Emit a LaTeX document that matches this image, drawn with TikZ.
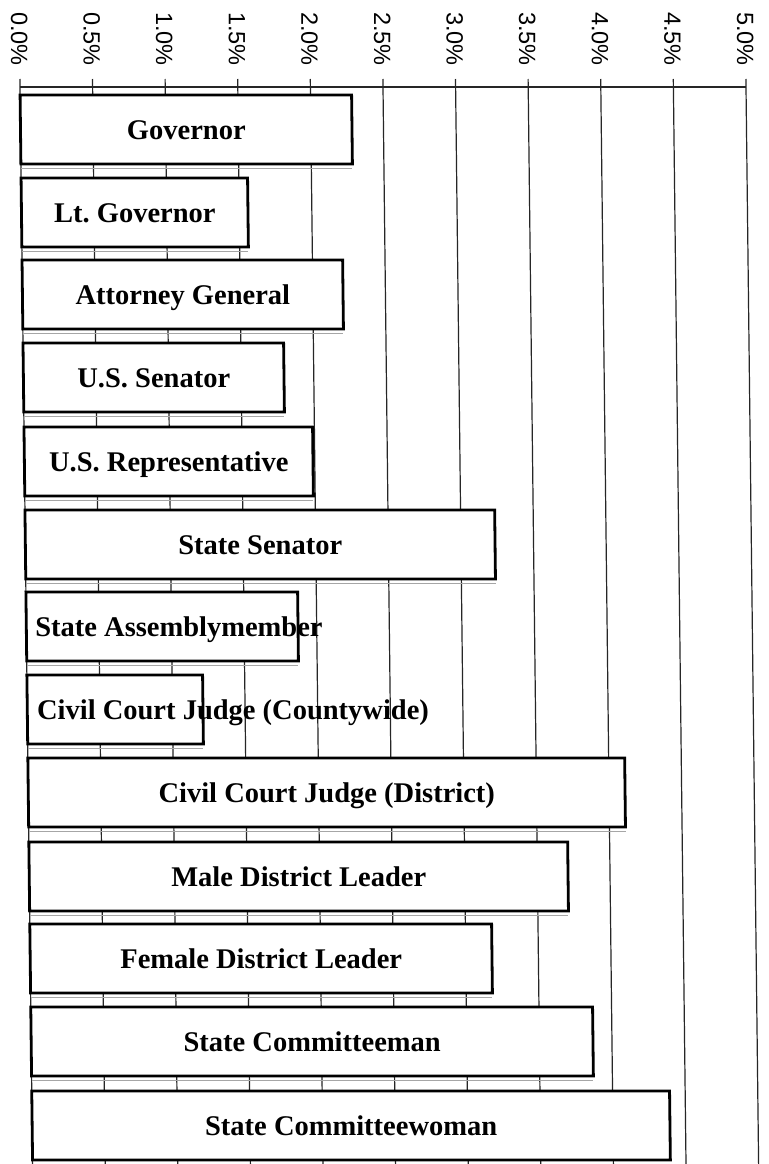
\documentclass[tikz,border=0pt]{standalone}
\usepackage{fontspec}
\setmainfont{Liberation Serif}
\newfontfamily\axisfont{Liberation Sans}
\begin{document}
\begin{tikzpicture}[x=1pt,y=-1pt,
  barbox/.style={draw=black,line width=2.8pt,fill=white,line join=miter},
  gridline/.style={draw=black!85,line width=1.2pt},
  gapline/.style={draw=black!35,line width=0.8pt},
  axisline/.style={draw=black!85,line width=1.5pt},
  barlab/.style={font=\fontsize{28.5}{28.5}\selectfont\bfseries,inner sep=0pt,anchor=base},
  barlabw/.style={barlab,anchor=base west},
  ticklab/.style={font=\axisfont\fontsize{23.5}{23.5}\selectfont,rotate=-90,anchor=west,inner sep=0pt}]
\useasboundingbox (0,0) rectangle (768,1164);
\fill[white] (0,0) rectangle (768,1164);
\begin{scope}[cm={1,0,-0.0117,1,(-1.02,0)}]
  % tick labels and grid lines
  \foreach \i/\t in {0/0.0,1/0.5,2/1.0,3/1.5,4/2.0,5/2.5,6/3.0,7/3.5,8/4.0,9/4.5,10/5.0}{
    \node[ticklab] (t\i) at ({20+72.6*\i},12) {\t\%};
    \draw[gridline] ({20+72.6*\i},79) -- ({20+72.6*\i},1170);
  }
  \draw[axisline] (20,87) -- (746,87);
  % bars
  \foreach \n/\top/\r in {1/95/351.5,2/178/246.5,3/260/340.6,4/343/280.6,5/427/308.6,
      6/510/489.7,7/592/291.7,8/675/195.7,9/758/616.8,10/842/558.8,11/924/481.8,
      12/1007/581.8,13/1091/657.8}{
    \draw[gapline] (20,{\top+73}) -- (\r,{\top+73});
    \draw[barbox] (20,\top) rectangle (\r,{\top+69});
  }
  \node[barlab] (l1) at ({(20+351.5)/2},139) {Governor};
  \node[barlab] (l2) at ({(20+246.5)/2},222) {Lt.\ Governor};
  \node[barlab] (l3) at ({(20+340.6)/2},304) {Attorney General};
  \node[barlab] (l4) at ({(20+280.6)/2},387) {U.S. Senator};
  \node[barlab] (l5) at ({(20+308.6)/2},471) {U.S. Representative};
  \node[barlab] (l6) at ({(20+489.7)/2},554) {State Senator};
  \node[barlabw] (l7) at (28.7,636) {State Assemblymember};
  \node[barlabw] (l8) at (29.5,719) {Civil Court Judge (Countywide)};
  \node[barlab] (l9) at ({(20+616.8)/2},802) {Civil Court Judge (District)};
  \node[barlab] (l10) at ({(20+558.8)/2},886) {Male District Leader};
  \node[barlab] (l11) at ({(20+481.8)/2},968) {Female District Leader};
  \node[barlab] (l12) at ({(20+581.8)/2},1051) {State Committeeman};
  \node[barlab] (l13) at ({(20+657.8)/2},1135) {State Committeewoman};
\end{scope}
\end{tikzpicture}
\end{document}
